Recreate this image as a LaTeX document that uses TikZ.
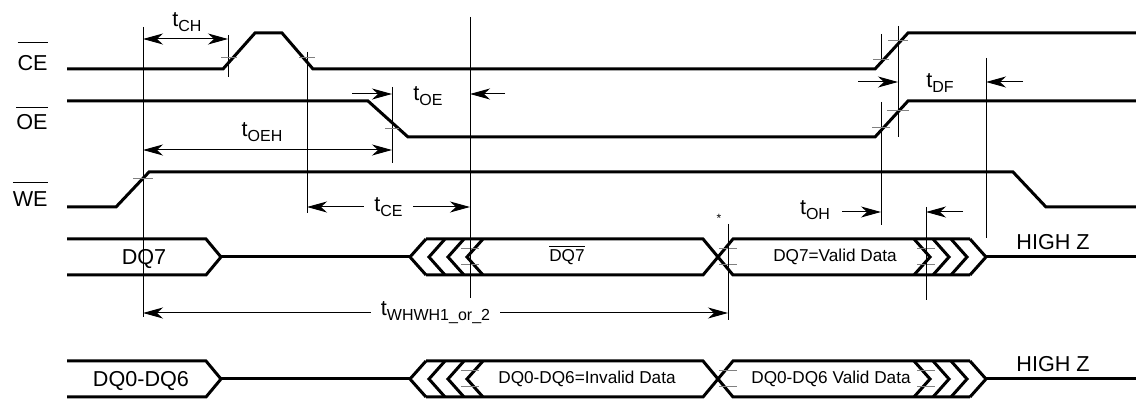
\documentclass[tikz,border=0pt]{standalone}
\usepackage{fontspec}
\setmainfont{Liberation Sans}
\usetikzlibrary{arrows.meta}
\newcommand{\tsub}[1]{t\raisebox{-2.5pt}{\fontsize{8}{9}\selectfont #1}}
\newcommand{\barred}[2][4pt]{\setbox0\hbox{#2}\vbox{\hrule width\wd0 height 0.6pt\kern#1\box0}}
\begin{document}
\begin{tikzpicture}[x=0.5pt,y=-0.5pt,
    sig/.style={line width=1.5pt},
    refl/.style={line width=0.5pt},
    tick/.style={line width=0.5pt,black!50},
    dim/.style={line width=0.5pt,-{Stealth[length=10pt,width=5.5pt,inset=3pt]}},
    dimb/.style={line width=0.5pt,{Stealth[length=10pt,width=5.5pt,inset=3pt]}-{Stealth[length=10pt,width=5.5pt,inset=3pt]}},
    lbl/.style={font=\fontsize{10.8}{13}\selectfont,inner sep=0pt},
    dat/.style={font=\fontsize{8.6}{10}\selectfont,inner sep=0pt}]
   \useasboundingbox (0,0) rectangle (1136,400);
   % control signals
   \node[lbl,anchor=base east] (ce) at (48,71) {\barred[6.5pt]{CE}};
   \node[lbl,anchor=base east] (oe) at (48,130) {\barred[3.5pt]{OE}};
   \node[lbl,anchor=base east] (we) at (48,207) {\barred[4.5pt]{WE}};
   \draw[sig] (67,69) -- (223,69) -- (255,33) -- (282,33) -- (313,69) -- (875,69) -- (908,33) -- (1136,33);
   \draw[sig] (67,101) -- (368,101) -- (408,137) -- (875,137) -- (908,101) -- (1136,101);
   \draw[sig] (67,207) -- (116,207) -- (149,172) -- (1013,172) -- (1046,207) -- (1136,207);
   % data buses
   \foreach \ym in {257,379} {
     \draw[sig] (67,\ym-18) -- (206,\ym-18) -- (221,\ym) -- (206,\ym+18) -- (67,\ym+18);
     \draw[sig] (221,\ym) -- (410,\ym);
     \foreach \p in {410,429,448,467}
       \draw[sig] (\p+16,\ym-18) -- (\p,\ym) -- (\p+16,\ym+18);
     \draw[sig] (426,\ym-18) -- (703,\ym-18) -- (733,\ym+18) -- (970,\ym+18);
     \draw[sig] (426,\ym+18) -- (703,\ym+18) -- (733,\ym-18) -- (970,\ym-18);
     \foreach \p in {930,949,967,986}
       \draw[sig] (\p-16,\ym-18) -- (\p,\ym) -- (\p-16,\ym+18);
     \draw[sig] (986,\ym) -- (1136,\ym);
     \foreach \p in {470,728,926}
       \draw[tick] (\p-9,\ym-8) -- (\p+9,\ym-8) (\p-9,\ym+8) -- (\p+9,\ym+8);
   }
   \node[lbl,anchor=base] (d7) at (144,265) {DQ7};
   \node[dat,anchor=base] (d7n) at (567,262) {\barred[1.5pt]{DQ7}};
   \node[dat,anchor=base] (d7v) at (835,262) {DQ7=Valid Data};
   \node[lbl,anchor=base] (hz7) at (1053,250) {HIGH Z};
   \node[lbl,anchor=base] (d06) at (141,387) {DQ0-DQ6};
   \node[dat,anchor=base] (d06i) at (587,384) {DQ0-DQ6=Invalid Data};
   \node[dat,anchor=base] (d06v) at (831,384) {DQ0-DQ6 Valid Data};
   \node[lbl,anchor=base] (hz06) at (1053,372) {HIGH Z};
   \node[font=\fontsize{6}{6}\selectfont,inner sep=0pt] (star) at (719,218) {*};
   % reference lines and crossing marks
   \draw[refl] (143,27) -- (143,317) (228,35) -- (228,77) (307,52) -- (307,213)
     (392,87) -- (392,163) (470,17) -- (470,298) (728,224) -- (728,320)
     (881,34) -- (881,63) (881,102) -- (881,225) (898,26) -- (898,137)
     (986,58) -- (986,238) (926,207) -- (926,300);
   \draw[tick] (133,179) -- (153,179) (221,58) -- (237,58) (299,58) -- (315,58)
     (385,129) -- (399,129) (873,60) -- (889,60) (888,41) -- (908,41)
     (872,128) -- (890,128) (887,111) -- (909,111);
   % timing parameters
   \draw[dimb] (143,39) -- (228,39);
   \node[lbl] (tch) at (187,22) {\tsub{CH}};
   \draw[dimb] (143,150) -- (392,150);
   \node[lbl] (toeh) at (262,132) {\tsub{OEH}};
   \draw[dim] (352,94) -- (392,94);
   \draw[dim] (505,94) -- (470,94);
   \node[lbl] (toe) at (428,96) {\tsub{OE}};
   \draw[dimb] (307,207) -- node[lbl,fill=white,inner xsep=5pt] (tce) {\tsub{CE}} (470,207);
   \draw[dimb] (143,313) -- node[lbl,fill=white,inner xsep=5pt] (twh) {\tsub{WHWH1\_or\_2}} (728,313);
   \draw[dim] (858,82) -- (898,82);
   \draw[dim] (1023,82) -- (986,82);
   \node[lbl] (tdf) at (940,83) {\tsub{DF}};
   \draw[dim] (842,212) -- (881,212);
   \draw[dim] (963,212) -- (926,212);
   \node[lbl] (toh) at (815,210) {\tsub{OH}};
\end{tikzpicture}
\end{document}
